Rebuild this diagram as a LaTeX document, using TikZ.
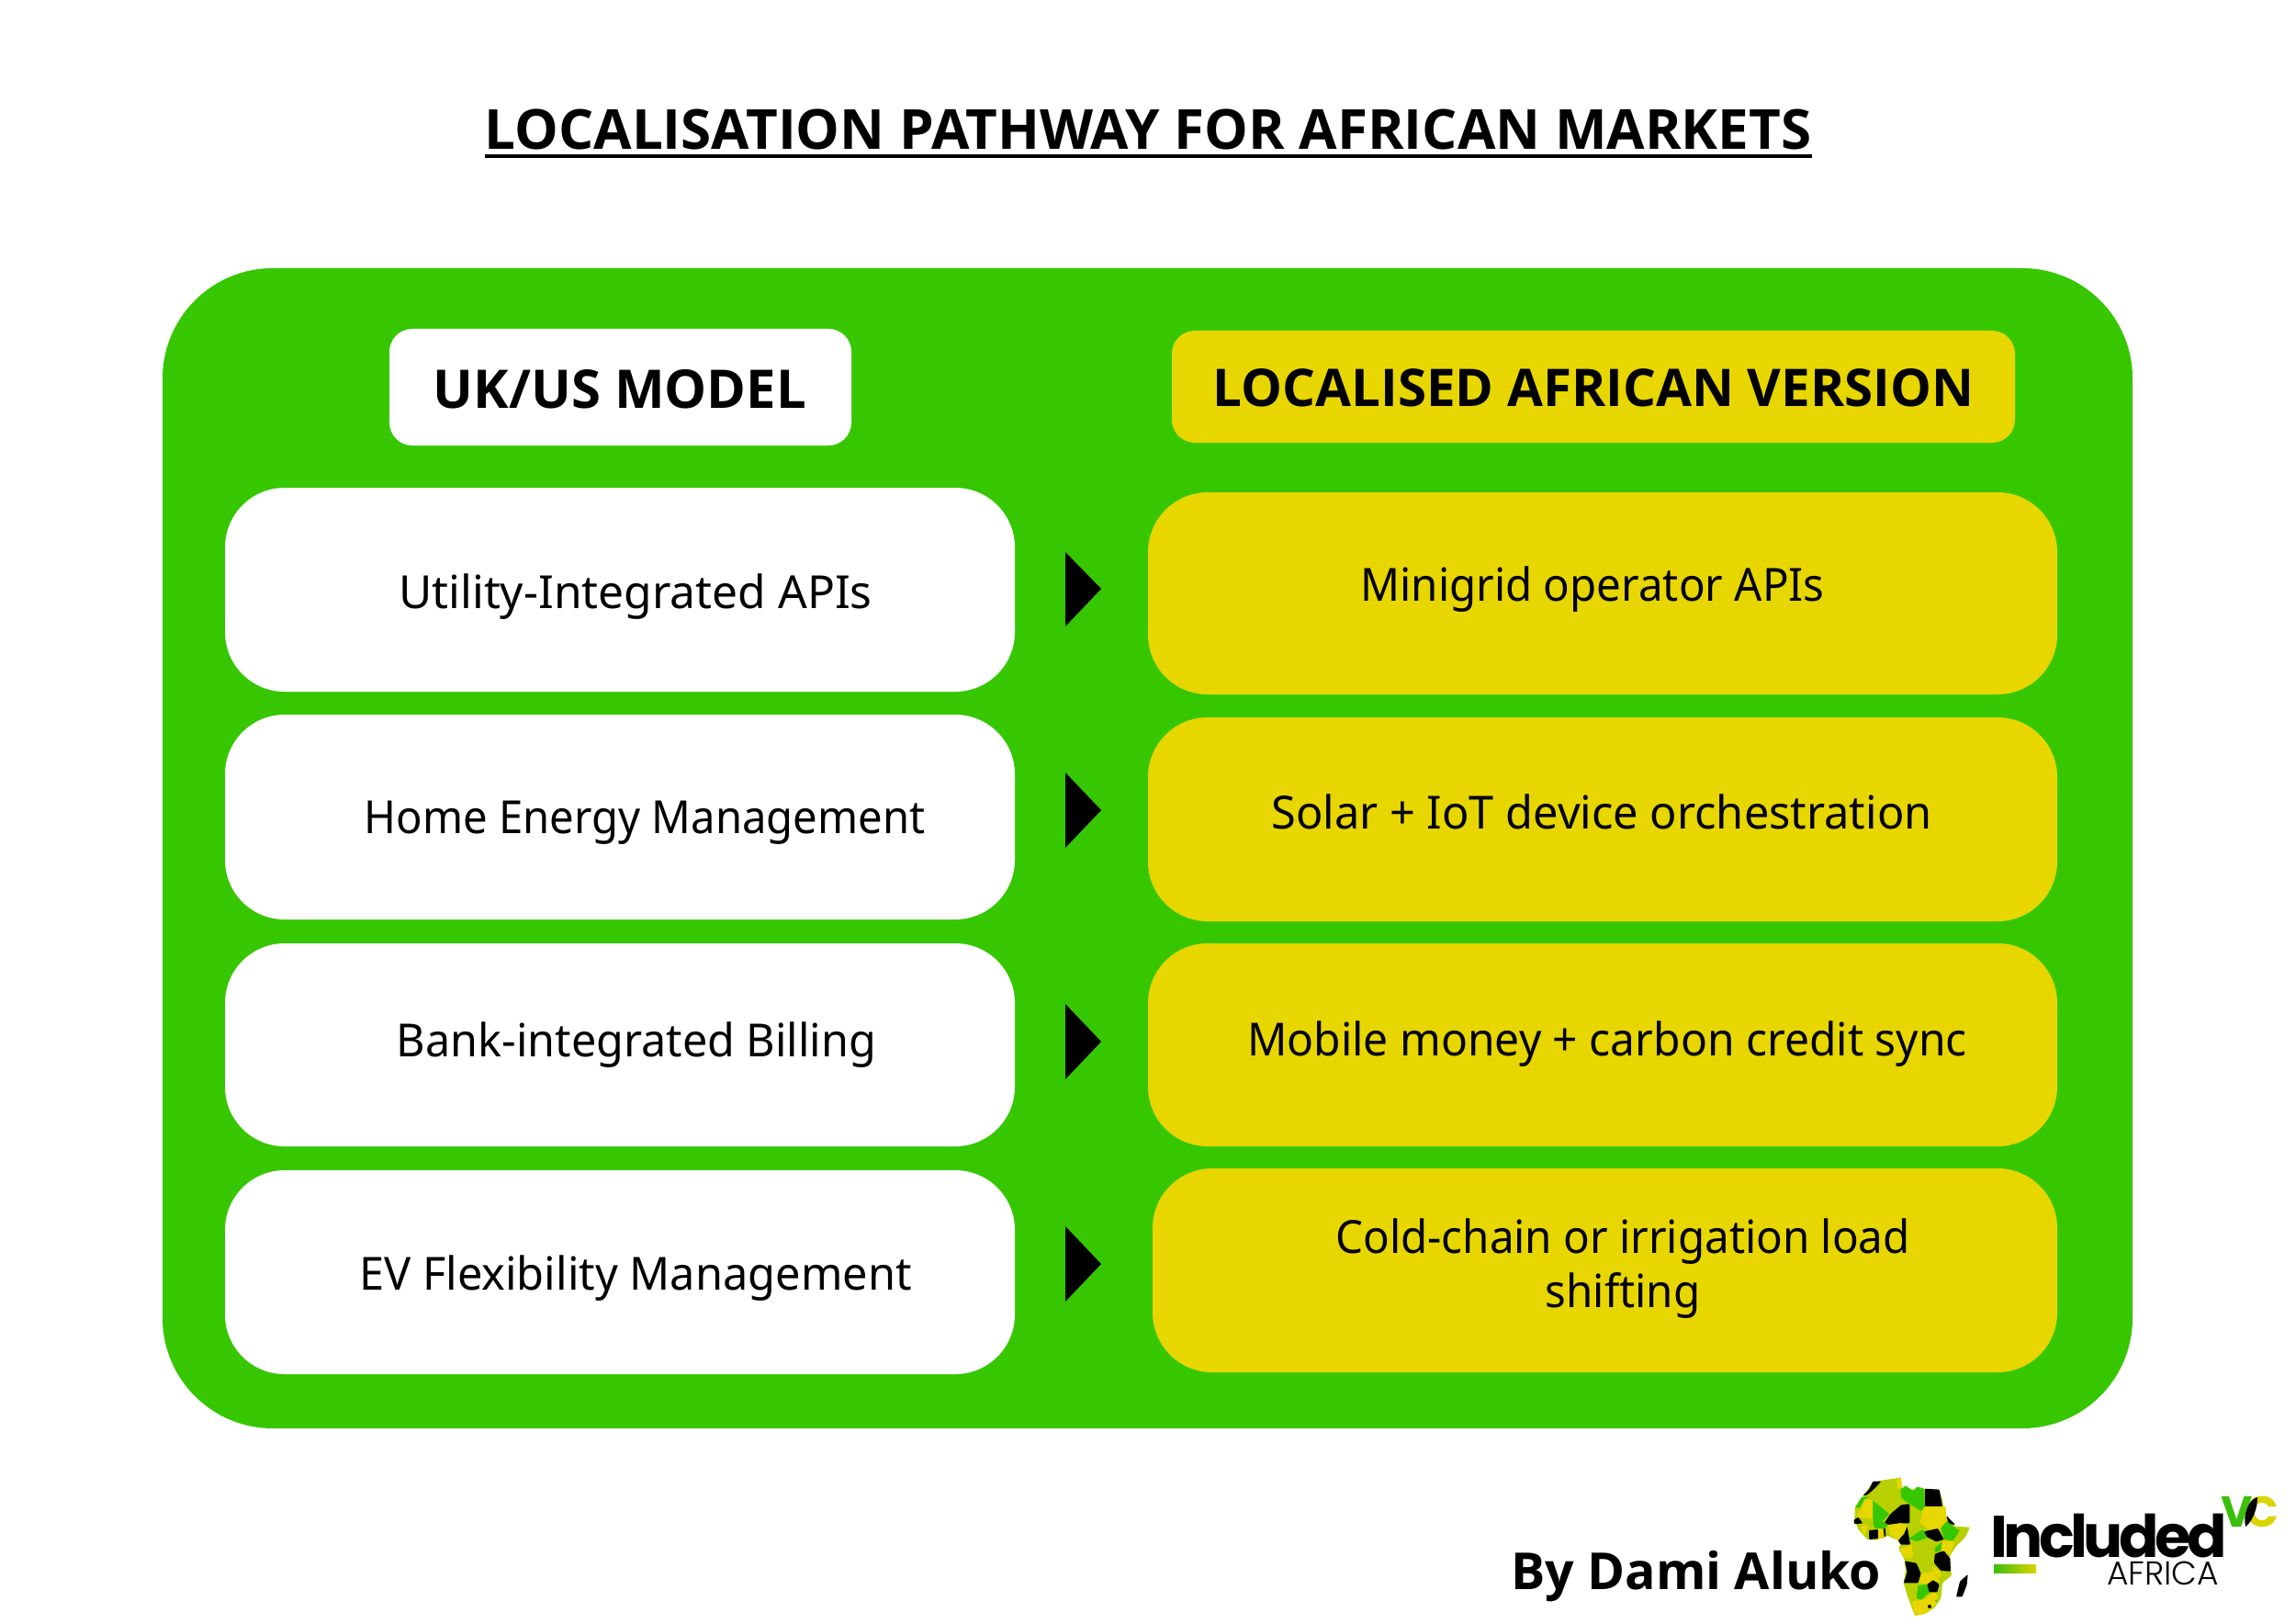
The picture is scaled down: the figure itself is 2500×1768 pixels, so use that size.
\documentclass[tikz,border=0pt]{standalone}
\usepackage{fontspec}
\setmainfont{Noto Sans}
\newfontfamily\headfont{Open Sans}
\newfontfamily\logofont{Poppins}
\newfontfamily\logolight{Poppins Light}
\definecolor{brandgreen}{RGB}{54,199,0}
\definecolor{brandyellow}{RGB}{232,214,0}
\definecolor{lime}{RGB}{184,208,0}
\definecolor{logogreen}{RGB}{60,190,10}
\definecolor{logoyellow}{RGB}{218,212,0}
\tikzset{
  x=1pt,y=-1pt,
  bodytext/.style={inner sep=0pt,align=center,font=\fontsize{49.7}{58.5}\selectfont,text=black,xscale=#1,transform shape},
  bodytext/.default=1,
  headtext/.style={inner sep=0pt,font=\headfont\fontsize{#1}{64}\selectfont\bfseries,text=black},
  rowbox/.style={rounded corners=65pt,inner sep=0pt,draw=none},
  headbox/.style={rounded corners=25pt,inner sep=0pt,draw=none},
  pointer/.style={fill=black,draw=none},
  region/.style={rounded corners=1pt},
}
\begin{document}
\begin{tikzpicture}
\useasboundingbox (0,0) rectangle (2500,1768);
\fill[white] (0,0) rectangle (2500,1768);
% title
\node[inner sep=0pt,font=\headfont\fontsize{60.1}{68}\selectfont\bfseries,anchor=base] (title) at (1250,163) {LOCALISATION PATHWAY FOR AFRICAN MARKETS};
\fill[black] (528,168) rectangle (1973,172);
% panel
\path[fill=brandgreen,rounded corners=120pt] (177,292) rectangle (2322,1555);
% headers
\path[headbox,fill=white] (424,358) rectangle (927,485);
\path[headbox,fill=brandyellow] (1276,360) rectangle (2194,482);
\node[headtext=58] (hl) at (675,424) {UK/US MODEL};
\node[headtext=56.5] (hr) at (1735,422) {LOCALISED AFRICAN VERSION};
% left boxes
\path[rowbox,fill=white] (245,531) rectangle (1105,753);
\path[rowbox,fill=white] (245,778) rectangle (1105,1001);
\path[rowbox,fill=white] (245,1027) rectangle (1105,1248);
\path[rowbox,fill=white] (245,1274) rectangle (1105,1496);
% right boxes
\path[rowbox,fill=brandyellow] (1250,536) rectangle (2240,756);
\path[rowbox,fill=brandyellow] (1250,781) rectangle (2240,1003);
\path[rowbox,fill=brandyellow] (1250,1027) rectangle (2240,1248);
\path[rowbox,fill=brandyellow] (1255,1272) rectangle (2240,1494);
% texts
\node[bodytext] (l1) at (692,650) {Utility-Integrated APIs};
\node[bodytext=.95] (l2) at (702,896) {Home Energy Management};
\node[bodytext=.976] (l3) at (693,1138) {Bank-integrated Billing};
\node[bodytext=.98] (l4) at (692,1392) {EV Flexibility Management};
\node[bodytext=.955] (r1) at (1734,642) {Minigrid operator APIs};
\node[bodytext=.98] (r2) at (1744,884) {Solar + IoT device orchestration};
\node[bodytext=.965] (r3) at (1750,1137) {Mobile money + carbon credit sync};
\node[bodytext=.956] (r4) at (1767,1381) {Cold-chain or irrigation load\\shifting};
% pointers
\fill[pointer] (1160,601) -- (1199,641) -- (1160,682) -- cycle;
\fill[pointer] (1160,841) -- (1199,882) -- (1160,923) -- cycle;
\fill[pointer] (1160,1093) -- (1199,1134) -- (1160,1175) -- cycle;
\fill[pointer] (1160,1335) -- (1199,1376) -- (1160,1417) -- cycle;
% byline
\node[inner sep=0pt,anchor=base west,font=\headfont\fontsize{55.5}{60}\selectfont\bfseries] (by) at (1645,1730) {By Dami Aluko};
% map
\begin{scope}[shift={(1980,1590)},x=0.3333pt,y=-0.3333pt,every path/.append style={region}]
\fill[lime] (150,112)--(175,75)--(205,65)--(255,58)--(270,55)--(272,90)--(300,95)--(345,92)--(395,95)--(405,130)--(415,180)--(445,215)--(495,218)--(480,250)--(450,280)--(430,310)--(432,350)--(435,375)--(405,400)--(400,450)--(380,480)--(350,500)--(315,507)--(305,480)--(290,440)--(278,400)--(285,360)--(280,320)--(262,290)--(270,265)--(225,245)--(190,260)--(160,258)--(130,225)--(118,190)--(120,150)--cycle;
\fill[black] (145,115)--(165,95)--(178,68)--(205,68)--(185,90)--(160,112)--cycle;
\fill[brandyellow] (255,60)--(270,55)--(272,92)--(258,92)--cycle;
\fill[brandgreen] (268,95)--(285,82)--(310,100)--(322,85)--(345,92)--(348,160)--(335,165)--(295,140)--(270,122)--cycle;
\fill[black] (348,92)--(395,95)--(405,150)--(348,150)--cycle;
\fill[brandyellow] (340,160)--(348,150)--(415,150)--(420,200)--(390,230)--(360,225)--(332,205)--cycle;
\fill[black] (418,180)--(447,210)--(425,207)--cycle;
\fill[brandgreen] (400,220)--(420,198)--(448,222)--(462,228)--(440,262)--(410,258)--cycle;
\fill[brandgreen] (120,155)--(140,120)--(165,118)--(145,135)--(135,155)--cycle;
\fill[brandyellow] (125,180)--(145,150)--(150,125)--(178,130)--(178,190)--(130,185)--cycle;
\fill[brandgreen] (178,130)--(232,175)--(212,195)--(180,215)--(178,190)--cycle;
\fill[black] (235,175)--(270,145)--(298,142)--(298,205)--(265,205)--(232,210)--(215,205)--cycle;
\fill[brandyellow] (228,210)--(265,205)--(290,208)--(280,235)--(258,260)--(232,240)--cycle;
\fill[black] (290,215)--(300,275)--(270,275)--(260,262)--(280,240)--cycle;
\fill[black] (115,195)--(130,185)--(145,205)--(118,208)--cycle;
\fill[brandyellow] (135,215)--(165,210)--(150,245)--cycle;
\fill[black] (165,228)--(195,225)--(195,255)--(165,258)--cycle;
\fill[brandyellow] (195,220)--(213,220)--(215,255)--(195,255)--cycle;
\fill[black] (212,220)--(218,220)--(220,250)--(215,250)--cycle;
\fill[brandgreen] (180,215)--(205,195)--(228,210)--(215,222)--(185,222)--cycle;
\fill[brandgreen] (295,255)--(340,225)--(360,250)--(320,265)--cycle;
\fill[black] (345,232)--(390,222)--(410,258)--(385,265)--(355,250)--cycle;
\fill[brandgreen] (380,285)--(405,265)--(400,295)--(380,300)--cycle;
\fill[brandyellow] (405,262)--(445,265)--(430,305)--(415,310)--(400,295)--cycle;
\fill[black] (380,305)--(410,295)--(430,320)--(432,362)--(400,360)--(378,335)--cycle;
\fill[black] (282,328)--(320,335)--(335,370)--(325,400)--(278,400)--(290,365)--cycle;
\fill[brandyellow] (335,370)--(372,362)--(398,395)--(345,403)--(330,400)--cycle;
\fill[brandyellow] (370,345)--(398,362)--(400,385)--(380,370)--cycle;
\fill[brandgreen] (325,408)--(358,405)--(370,425)--(335,455)--(320,450)--cycle;
\fill[black] (355,405)--(375,390)--(395,405)--(388,430)--(362,430)--cycle;
\fill[brandyellow] (305,460)--(345,455)--(375,430)--(390,440)--(385,470)--(350,500)--(315,507)--cycle;
\fill[black] (363,477) circle (6);
\fill[brandgreen] (385,458) circle (4);
\fill[brandyellow] (265,290)--(305,275)--(310,315)--(285,320)--cycle;
\fill[black] (450,445)--(462,395)--(488,372)--(485,405)--(470,445)--cycle;
\end{scope}
% logo
\node[inner sep=0pt,anchor=base west,font=\logofont\fontsize{64}{70}\selectfont\bfseries] (inc) at (2167,1695) {\addfontfeature{LetterSpace=-7}Included};
\node[inner sep=0pt,anchor=base east,font=\logolight\fontsize{36}{40}\selectfont] (afr) at (2416,1725) {AFRICA};
\shade[left color=logogreen,right color=logoyellow] (2171,1703) rectangle (2217,1712);
\node[inner sep=0pt,anchor=base west,font=\logofont\fontsize{47}{50}\selectfont\bfseries,text=logoyellow] (vc2) at (2445,1662) {C};
\node[inner sep=0pt,anchor=base west,font=\logofont\fontsize{47}{50}\selectfont\bfseries,text=logogreen] (vc) at (2418,1662) {V};
\fill[black] (2458,1630) .. controls (2448,1632) and (2442,1650) .. (2445,1662) .. controls (2453,1656) and (2458,1642) .. (2458,1630) -- cycle;
\end{tikzpicture}
\end{document}
